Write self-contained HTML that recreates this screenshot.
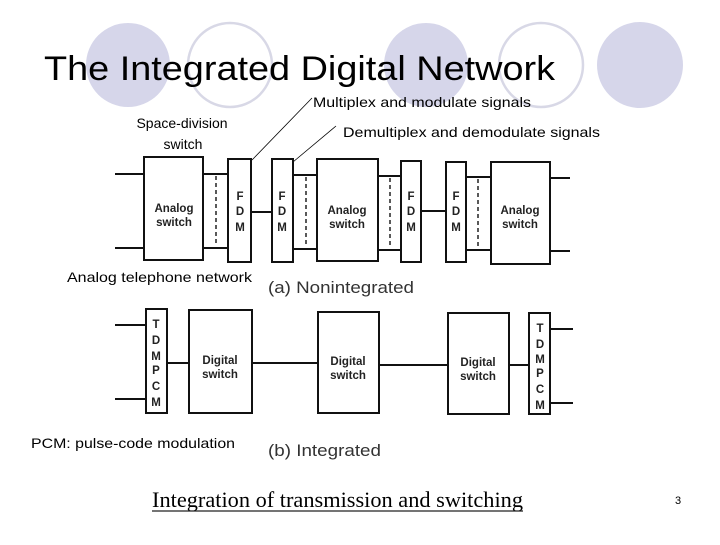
<!DOCTYPE html>
<html><head><meta charset="utf-8"><style>
body{margin:0;width:720px;height:540px;background:#fff;overflow:hidden}
</style></head><body>
<svg width="720" height="540" xmlns="http://www.w3.org/2000/svg" font-family="Liberation Sans, sans-serif">
<circle cx="128" cy="65" r="42" fill="#d6d6ea"/>
<circle cx="230" cy="65" r="42" fill="none" stroke="#d8d8e6" stroke-width="2.5"/>
<circle cx="426" cy="65" r="42" fill="#d6d6ea"/>
<circle cx="541" cy="65" r="42" fill="none" stroke="#d8d8e6" stroke-width="2.5"/>
<circle cx="640" cy="65" r="43" fill="#d6d6ea"/>
<text x="44" y="80" font-size="34" fill="#000" textLength="511" lengthAdjust="spacingAndGlyphs">The Integrated Digital Network</text>
<text x="313" y="107" font-size="14" textLength="218" lengthAdjust="spacingAndGlyphs">Multiplex and modulate signals</text>
<text x="182" y="128" font-size="14" text-anchor="middle">Space-division</text>
<text x="183" y="149" font-size="14" text-anchor="middle">switch</text>
<text x="343" y="137" font-size="14" textLength="257" lengthAdjust="spacingAndGlyphs">Demultiplex and demodulate signals</text>
<line x1="312" y1="98" x2="252" y2="160" stroke="#000" stroke-width="0.8"/>
<line x1="336" y1="126" x2="293" y2="162" stroke="#000" stroke-width="0.8"/>
<g stroke="#111" stroke-width="2" fill="#fff">
<path d="M115 174H144M115 248H144M203 174H228M203 248H228M251 212H272M293 175H317M293 249H317M378 176H401M378 250H401M421 211H446M466 177H491M466 250H491M550 178H570M550 251H570" fill="none"/>
<rect x="144" y="157" width="59" height="103"/>
<rect x="228" y="159" width="23" height="103"/>
<rect x="272" y="159" width="21" height="103"/>
<rect x="317" y="159" width="61" height="102"/>
<rect x="401" y="161" width="20" height="101"/>
<rect x="446" y="162" width="20" height="100"/>
<rect x="491" y="162" width="59" height="102"/>
<path d="M115 325H146M115 399H146M167 363H189M252 363H318M379 365H448M509 365H529M550 329H573M550 403H573" fill="none"/>
<rect x="146" y="309" width="21" height="104"/>
<rect x="189" y="310" width="63" height="103"/>
<rect x="318" y="312" width="61" height="101"/>
<rect x="448" y="313" width="61" height="101"/>
<rect x="529" y="313" width="21" height="101"/>
</g>
<g stroke="#222" stroke-width="1.5" stroke-dasharray="4,3">
<line x1="216" y1="176" x2="216" y2="246"/>
<line x1="306" y1="177" x2="306" y2="247"/>
<line x1="390" y1="178" x2="390" y2="248"/>
<line x1="478" y1="179" x2="478" y2="248"/>
</g>
<g font-size="11.5" font-weight="bold" fill="#222" text-anchor="middle">
<text x="174" y="212">Analog</text><text x="174" y="226">switch</text>
<text x="347" y="214">Analog</text><text x="347" y="228">switch</text>
<text x="520" y="214">Analog</text><text x="520" y="228">switch</text>
<text x="240" y="200">F</text><text x="240" y="215">D</text><text x="240" y="231">M</text>
<text x="282" y="200">F</text><text x="282" y="215">D</text><text x="282" y="231">M</text>
<text x="411" y="200">F</text><text x="411" y="215">D</text><text x="411" y="231">M</text>
<text x="456" y="200">F</text><text x="456" y="215">D</text><text x="456" y="231">M</text>
<text x="220" y="364">Digital</text><text x="220" y="378">switch</text>
<text x="348" y="365">Digital</text><text x="348" y="379">switch</text>
<text x="478" y="366">Digital</text><text x="478" y="380">switch</text>
<text x="156" y="328">T</text><text x="156" y="344">D</text><text x="156" y="360">M</text><text x="156" y="374">P</text><text x="156" y="390">C</text><text x="156" y="406">M</text>
<text x="540" y="332">T</text><text x="540" y="348">D</text><text x="540" y="363">M</text><text x="540" y="377">P</text><text x="540" y="393">C</text><text x="540" y="409">M</text>
</g>
<text x="67" y="282" font-size="14" textLength="185" lengthAdjust="spacingAndGlyphs">Analog telephone network</text>
<text x="268" y="293" font-size="17" fill="#333" textLength="146" lengthAdjust="spacingAndGlyphs">(a) Nonintegrated</text>
<text x="31" y="448" font-size="14" textLength="204" lengthAdjust="spacingAndGlyphs">PCM: pulse-code modulation</text>
<text x="268" y="456" font-size="17" fill="#333" textLength="113" lengthAdjust="spacingAndGlyphs">(b) Integrated</text>
<text x="152" y="507" font-family="Liberation Serif, serif" font-size="22" textLength="371" lengthAdjust="spacingAndGlyphs">Integration of transmission and switching</text>
<line x1="152" y1="511" x2="523" y2="511" stroke="#222" stroke-width="1.3"/>
<text x="675" y="504" font-size="11">3</text>
</svg>
</body></html>
